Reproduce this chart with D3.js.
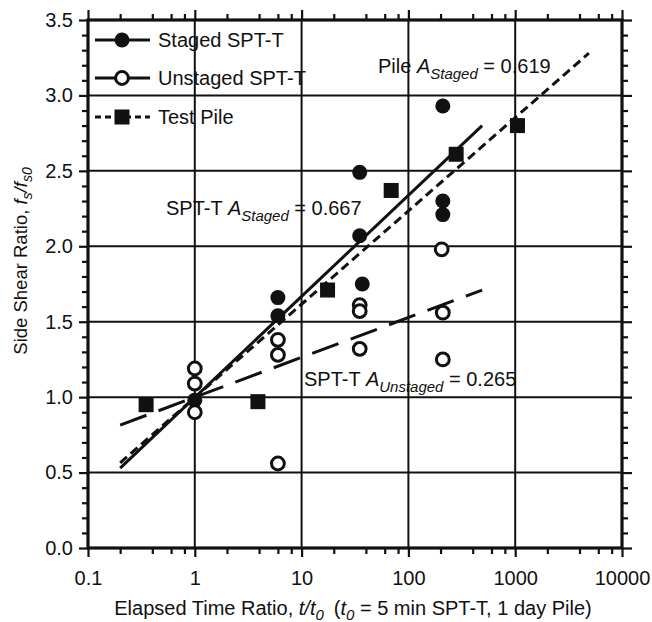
<!DOCTYPE html>
<html>
<head>
<meta charset="utf-8">
<script src="https://cdn.jsdelivr.net/npm/d3@7"></script>
<style>
  body { margin: 0; background: #fff; }
  text { font-family: "Liberation Sans", Arial, sans-serif; fill: #111; }
</style>
</head>
<body>
<div id="chart"></div>
<script>
// Data
const stagedT = [1, 6, 6, 35, 35, 37, 210, 210, 210];
const stagedR = [0.98, 1.66, 1.54, 2.49, 2.07, 1.75, 2.93, 2.30, 2.21];

const unstagedT = [1, 1, 1, 6, 6, 6, 35, 35, 35, 205, 210, 210];
const unstagedR = [1.19, 1.09, 0.90, 1.38, 1.28, 0.56, 1.61, 1.57, 1.32, 1.98, 1.56, 1.25];

const pileT = [0.35, 3.9, 17.5, 69, 280, 1050];
const pileR = [0.95, 0.97, 1.71, 2.37, 2.61, 2.80];

// fitted lines (end points)
const stagedFitT = [0.2, 490];
const stagedFitR = [0.53, 2.80];
const unstagedFitT = [0.2, 490];
const unstagedFitR = [0.815, 1.71];
const pileFitT = [0.2, 4900];
const pileFitR = [0.565, 3.28];

const xTicks = [0.1, 1, 10, 100, 1000, 10000];
const xTickLabels = ["0.1", "1", "10", "100", "1000", "10000"];
const yTicks = [0, 0.5, 1, 1.5, 2, 2.5, 3, 3.5];

const legendLabels = ["Staged SPT-T", "Unstaged SPT-T", "Test Pile"];

// Dimensions
const dims = { width: 652, height: 622, left: 88, right: 622, top: 20, bottom: 548 };
const fs = 20;   // main font size
const fsSub = 15;

const svg = d3.select("#chart").append("svg")
  .attr("width", dims.width).attr("height", dims.height);

const x = d3.scaleLog().domain([0.1, 10000]).range([dims.left, dims.right]);
const y = d3.scaleLinear().domain([0, 3.5]).range([dims.bottom, dims.top]);

// minor ticks: 2,4,6,8 of each decade, every 0.1 on y
const xMinor = [];
[0.1, 1, 10, 100, 1000].forEach(d => [2, 4, 6, 8].forEach(m => xMinor.push(d * m)));
const yMinor = d3.range(0, 35).map(i => i / 10).filter(v => Math.round(v * 10) % 5 !== 0);

// Grid
const grid = svg.append("g").attr("stroke", "#111").attr("stroke-width", 2);
grid.selectAll(".vg").data(xTicks.slice(1, -1)).join("line")
  .attr("x1", d => x(d)).attr("x2", d => x(d))
  .attr("y1", dims.top).attr("y2", dims.bottom);
grid.selectAll(".hg").data(yTicks.slice(1, -1)).join("line")
  .attr("x1", dims.left).attr("x2", dims.right)
  .attr("y1", d => y(d)).attr("y2", d => y(d));

// Axes (ticks outward on all four sides)
function styleAxis(g) {
  g.select(".domain").remove();
  g.selectAll("line").attr("stroke", "#111").attr("stroke-width", 2.2);
}
const fmtX = (d) => xTickLabels[xTicks.indexOf(d)];

svg.append("g").attr("transform", `translate(0,${dims.bottom})`)
  .call(d3.axisBottom(x).tickValues(xTicks).tickSize(9).tickFormat(fmtX).tickPadding(14))
  .call(styleAxis)
  .call(g => g.selectAll("text").attr("font-size", fs).attr("font-family", "Liberation Sans, Arial"));
svg.append("g").attr("transform", `translate(0,${dims.bottom})`)
  .call(d3.axisBottom(x).tickValues(xMinor).tickSize(6).tickFormat(""))
  .call(styleAxis);

svg.append("g").attr("transform", `translate(0,${dims.top})`)
  .call(d3.axisTop(x).tickValues(xTicks).tickSize(10).tickFormat(""))
  .call(styleAxis);
svg.append("g").attr("transform", `translate(0,${dims.top})`)
  .call(d3.axisTop(x).tickValues(xMinor).tickSize(6).tickFormat(""))
  .call(styleAxis);

svg.append("g").attr("transform", `translate(${dims.left},0)`)
  .call(d3.axisLeft(y).tickValues(yTicks).tickSize(9).tickFormat(d3.format(".1f")).tickPadding(6))
  .call(styleAxis)
  .call(g => g.selectAll("text").attr("font-size", fs).attr("font-family", "Liberation Sans, Arial"));
svg.append("g").attr("transform", `translate(${dims.left},0)`)
  .call(d3.axisLeft(y).tickValues(yMinor).tickSize(6).tickFormat(""))
  .call(styleAxis);

svg.append("g").attr("transform", `translate(${dims.right},0)`)
  .call(d3.axisRight(y).tickValues(yTicks).tickSize(10).tickFormat(""))
  .call(styleAxis);
svg.append("g").attr("transform", `translate(${dims.right},0)`)
  .call(d3.axisRight(y).tickValues(yMinor).tickSize(6).tickFormat(""))
  .call(styleAxis);

// Frame
svg.append("rect")
  .attr("x", dims.left).attr("y", dims.top)
  .attr("width", dims.right - dims.left).attr("height", dims.bottom - dims.top)
  .attr("fill", "none").attr("stroke", "#111").attr("stroke-width", 3.2);

// Fit lines
const line = d3.line().x(d => x(d[0])).y(d => y(d[1]));
const fits = [
  { t: stagedFitT, r: stagedFitR, dash: null },
  { t: unstagedFitT, r: unstagedFitR, dash: "28,13" },
  { t: pileFitT, r: pileFitR, dash: "9,5" },
];
svg.append("g").selectAll("path").data(fits).join("path")
  .attr("d", d => line(d3.zip(d.t, d.r)))
  .attr("fill", "none").attr("stroke", "#111").attr("stroke-width", 3)
  .attr("stroke-dasharray", d => d.dash);

// Points
const marks = svg.append("g");
marks.selectAll(".st").data(d3.zip(stagedT, stagedR)).join("circle")
  .attr("cx", d => x(d[0])).attr("cy", d => y(d[1])).attr("r", 7.5)
  .attr("fill", "#111");
marks.selectAll(".un").data(d3.zip(unstagedT, unstagedR)).join("circle")
  .attr("cx", d => x(d[0])).attr("cy", d => y(d[1])).attr("r", 6.4)
  .attr("fill", "#fff").attr("stroke", "#111").attr("stroke-width", 3);
marks.selectAll(".pl").data(d3.zip(pileT, pileR)).join("rect")
  .attr("x", d => x(d[0]) - 7.5).attr("y", d => y(d[1]) - 7.5)
  .attr("width", 15).attr("height", 15).attr("fill", "#111");

// Legend
const legend = svg.append("g");
const legY = [40, 78, 117];
const legDash = [null, null, "6,4"];
legendLabels.forEach((lab, i) => {
  legend.append("line").attr("x1", 95).attr("x2", 150)
    .attr("y1", legY[i]).attr("y2", legY[i])
    .attr("stroke", "#111").attr("stroke-width", 3).attr("stroke-dasharray", legDash[i]);
  if (i === 0) legend.append("circle").attr("cx", 122).attr("cy", legY[i]).attr("r", 7.5).attr("fill", "#111");
  if (i === 1) legend.append("circle").attr("cx", 122).attr("cy", legY[i]).attr("r", 6.4)
    .attr("fill", "#fff").attr("stroke", "#111").attr("stroke-width", 3);
  if (i === 2) legend.append("rect").attr("x", 114.5).attr("y", legY[i] - 7.5)
    .attr("width", 15).attr("height", 15).attr("fill", "#111");
  legend.append("text").attr("x", 158).attr("y", legY[i] + 7)
    .attr("font-size", fs).text(lab);
});

// Annotations
function annot(xp, yp, pre, sub, post) {
  const t = svg.append("text").attr("x", xp).attr("y", yp).attr("font-size", fs);
  t.append("tspan").text(pre);
  t.append("tspan").attr("font-style", "italic").text("A");
  t.append("tspan").attr("font-style", "italic").attr("font-size", fsSub).attr("dy", 6).text(sub);
  t.append("tspan").attr("dy", -6).text(" = " + post);
}
annot(378, 73, "Pile ", "Staged", "0.619");
annot(166, 215, "SPT-T ", "Staged", "0.667");
annot(304, 386, "SPT-T ", "Unstaged", "0.265");

// Axis titles
const xt = svg.append("text").attr("x", (dims.left + dims.right) / 2 - 2).attr("y", 615)
  .attr("text-anchor", "middle").attr("font-size", fs);
xt.append("tspan").text("Elapsed Time Ratio, ");
xt.append("tspan").attr("font-style", "italic").text("t/t");
xt.append("tspan").attr("font-style", "italic").attr("font-size", fsSub).attr("dy", 5).text("0");
xt.append("tspan").attr("dy", -5).attr("dx", 10).text("(");
xt.append("tspan").attr("font-style", "italic").text("t");
xt.append("tspan").attr("font-style", "italic").attr("font-size", fsSub).attr("dy", 5).text("0");
xt.append("tspan").attr("dy", -5).text(" = 5 min SPT-T, 1 day Pile)");

const yt = svg.append("text")
  .attr("transform", `translate(27,261) rotate(-90)`)
  .attr("text-anchor", "middle").attr("font-size", 18.5);
yt.append("tspan").text("Side Shear Ratio, ");
yt.append("tspan").attr("font-style", "italic").text("f");
yt.append("tspan").attr("font-style", "italic").attr("font-size", 14).attr("dy", 5).text("s");
yt.append("tspan").attr("font-style", "italic").attr("dy", -5).text("/f");
yt.append("tspan").attr("font-style", "italic").attr("font-size", 14).attr("dy", 5).text("s0");
</script>
</body>
</html>
